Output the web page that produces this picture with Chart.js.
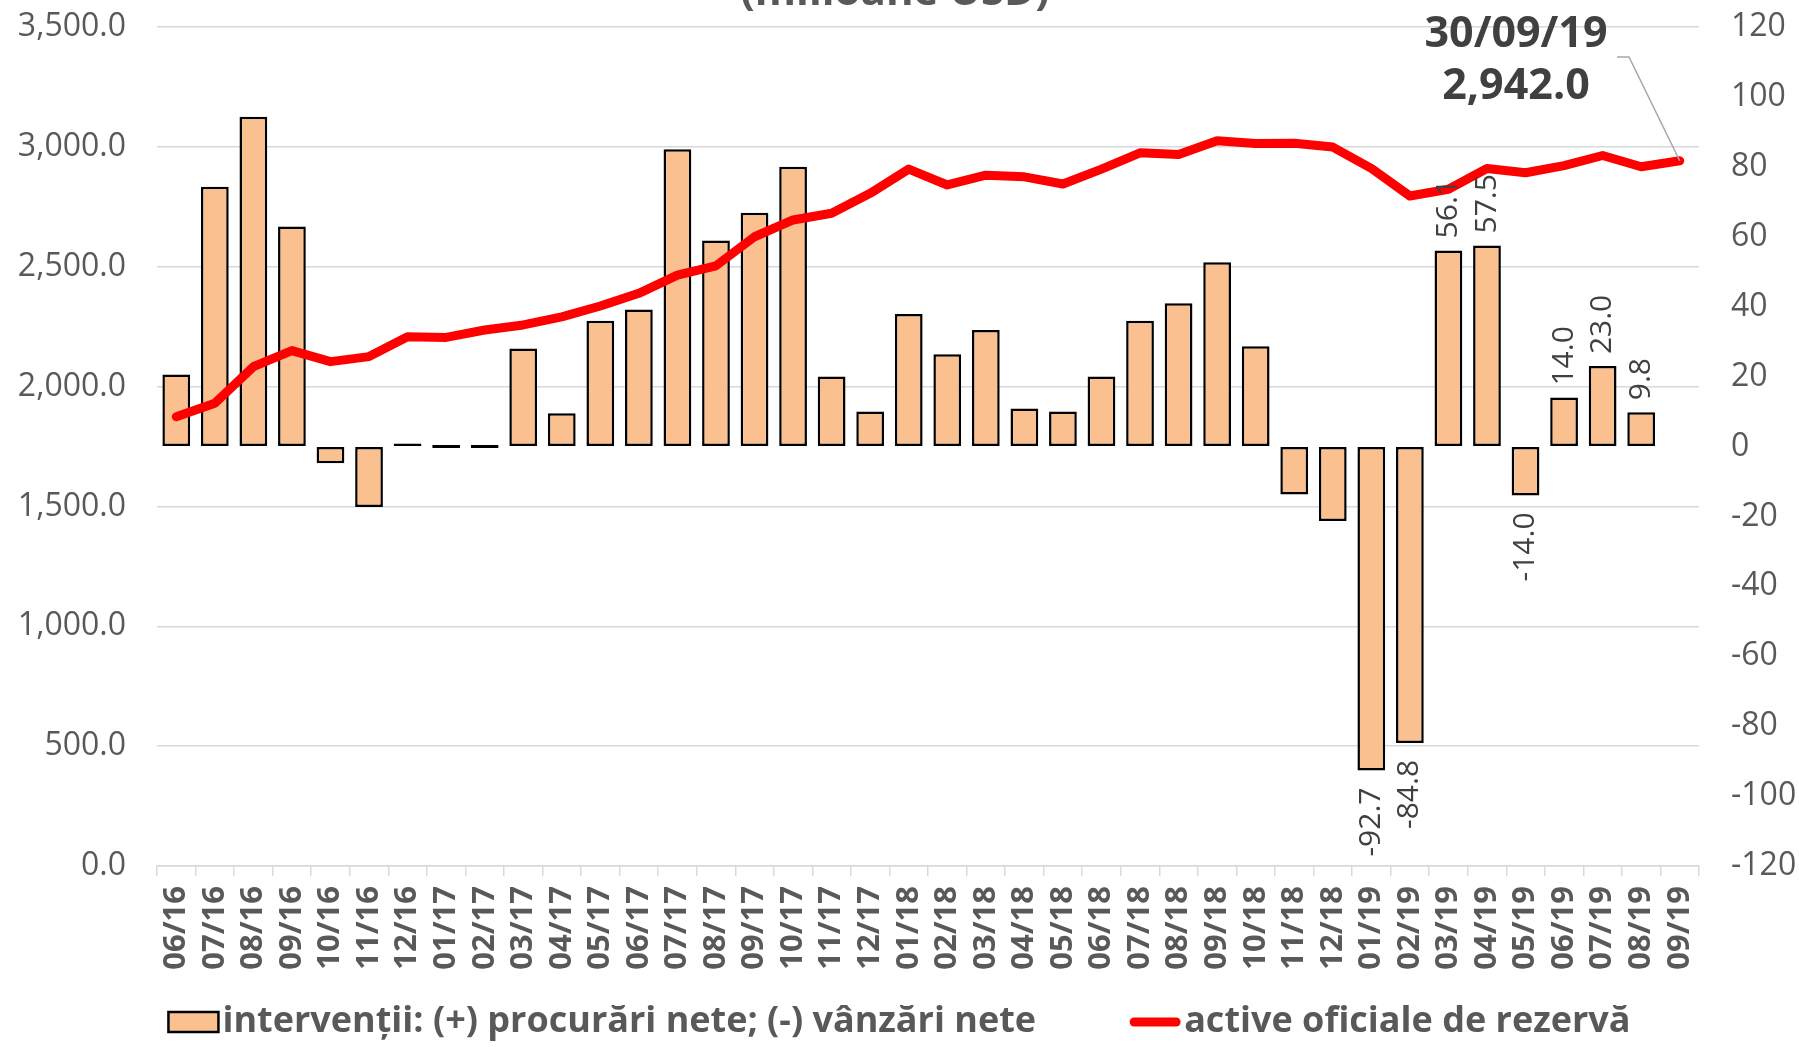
<!DOCTYPE html>
<html lang="ro">
<head>
<meta charset="utf-8">
<title>Intervenții și active oficiale de rezervă</title>
<script src="https://cdn.jsdelivr.net/npm/chart.js@4.4.1/dist/chart.umd.min.js"></script>
<style>
  html, body { margin: 0; padding: 0; background: #ffffff; }
  #wrap { width: 1799px; height: 1047px; position: relative; }
</style>
</head>
<body>
<div id="wrap"><canvas id="reserveChart"></canvas></div>
<script>
"use strict";

// Months (mm/yy)
const months = [
  "06/16", "07/16", "08/16", "09/16", "10/16", "11/16", "12/16",
  "01/17", "02/17", "03/17", "04/17", "05/17", "06/17", "07/17", "08/17", "09/17", "10/17", "11/17", "12/17",
  "01/18", "02/18", "03/18", "04/18", "05/18", "06/18", "07/18", "08/18", "09/18", "10/18", "11/18", "12/18",
  "01/19", "02/19", "03/19", "04/19", "05/19", "06/19", "07/19", "08/19", "09/19",
];

// Interventions, mil. USD (right axis)
const interventions = [
  20.6, 74.3, 94.3, 62.9, -4.8, -17.3, 0.5,
  0, 0, 28.0, 9.5, 36.0, 39.2, 85.0, 58.9, 66.9, 80.0, 20.0, 10.0,
  37.9, 26.4, 33.3, 10.9, 10.0, 20.0, 36.0, 41.0, 52.7, 28.7, -13.7, -21.3,
  -92.7, -84.8, 56.1, 57.5, -14.0, 14.0, 23.0, 9.8, null,
];

// Official reserve assets, mil. USD (left axis)
const reserveAssets = [
  1874, 1930, 2083, 2150, 2104, 2125, 2208,
  2205, 2236, 2257, 2291, 2336, 2389, 2465, 2504, 2625, 2695, 2723, 2806,
  2907, 2841, 2882, 2875, 2845, 2907, 2975, 2968, 3025, 3014, 3015, 2999,
  2910, 2795, 2823, 2910, 2892, 2922, 2964, 2917, 2942,
];

// Bars that carry a value label
const labelledMonths = ["01/19", "02/19", "03/19", "04/19", "05/19", "06/19", "07/19", "08/19"];

const titleText = "(milioane USD)";
const calloutDate = "30/09/19";

const FONT = "'Open Sans', 'Noto Sans', sans-serif";
const GREY = "#595959";
const DARK = "#404040";
const BAR_FILL = "#FAC090";
const LINE_RED = "#FF0000";

const fmt1 = (v) =>
  Number(v).toLocaleString("en-US", { minimumFractionDigits: 1, maximumFractionDigits: 1 });

// Title (cut off at the top), bar value labels and last-point callout
const extrasPlugin = {
  id: "extras",
  afterDatasetsDraw(chart) {
    const ctx = chart.ctx;
    ctx.save();

    // title, mostly outside the picture
    ctx.fillStyle = GREY;
    ctx.font = `bold 42px ${FONT}`;
    ctx.textAlign = "center";
    ctx.textBaseline = "alphabetic";
    ctx.fillText(titleText, 895, 5);

    // bar value labels, rotated
    const barMeta = chart.getDatasetMeta(0);
    ctx.font = `30px ${FONT}`;
    ctx.fillStyle = DARK;
    ctx.textBaseline = "middle";
    months.forEach((m, i) => {
      if (!labelledMonths.includes(m)) return;
      const v = interventions[i];
      const bar = barMeta.data[i];
      if (v === null || !bar) return;
      ctx.save();
      if (v >= 0) {
        ctx.translate(bar.x, bar.y - 12);
        ctx.rotate(-Math.PI / 2);
        ctx.textAlign = "left";
      } else {
        ctx.translate(bar.x, bar.y + 17);
        ctx.rotate(-Math.PI / 2);
        ctx.textAlign = "right";
      }
      ctx.fillText(fmt1(v), 0, 0);
      ctx.restore();
    });

    // callout for the last reserve value
    const lineMeta = chart.getDatasetMeta(1);
    const last = lineMeta.data[lineMeta.data.length - 1];
    const lastVal = reserveAssets[reserveAssets.length - 1];
    ctx.strokeStyle = "#a6a6a6";
    ctx.lineWidth = 1.5;
    ctx.beginPath();
    ctx.moveTo(1617, 57);
    ctx.lineTo(1629, 57);
    ctx.lineTo(last.x, last.y);
    ctx.stroke();

    ctx.fillStyle = DARK;
    ctx.font = `bold 43px ${FONT}`;
    ctx.textAlign = "center";
    ctx.textBaseline = "middle";
    ctx.fillText(calloutDate, 1516, 35);
    ctx.fillText(fmt1(lastVal), 1516, 87);

    ctx.restore();
  },

  // Legend row under the axis, Excel style (swatch right next to its text)
  afterDraw(chart) {
    const ctx = chart.ctx;
    const ds = chart.data.datasets;
    const y = 1022;
    const swatchW = 50;
    const gapText = 4;
    const gapItems = 94;

    ctx.save();
    ctx.font = `bold 36px ${FONT}`;
    ctx.textBaseline = "middle";
    ctx.textAlign = "left";
    const w1 = ctx.measureText(ds[0].label).width;
    const w2 = ctx.measureText(ds[1].label).width;
    const total = swatchW + gapText + w1 + gapItems + swatchW + gapText + w2;
    let x = chart.width / 2 - total / 2;

    // bars swatch
    ctx.fillStyle = BAR_FILL;
    ctx.strokeStyle = "#000000";
    ctx.lineWidth = 2.5;
    ctx.fillRect(x, y - 10, swatchW, 20);
    ctx.strokeRect(x, y - 10, swatchW, 20);
    x += swatchW + gapText;
    ctx.fillStyle = GREY;
    ctx.fillText(ds[0].label, x, y);
    x += w1 + gapItems;

    // line swatch
    ctx.strokeStyle = LINE_RED;
    ctx.lineWidth = 9;
    ctx.lineCap = "round";
    ctx.beginPath();
    ctx.moveTo(x + 4, y);
    ctx.lineTo(x + swatchW - 4, y);
    ctx.stroke();
    x += swatchW + gapText;
    ctx.fillStyle = GREY;
    ctx.fillText(ds[1].label, x, y);

    ctx.restore();
  },
};

const ctx = document.getElementById("reserveChart").getContext("2d");

new Chart(ctx, {
  type: "bar",
  data: {
    labels: months,
    datasets: [
      {
        type: "bar",
        label: "intervenții: (+) procurări nete; (-) vânzări nete",
        data: interventions,
        yAxisID: "y1",
        backgroundColor: BAR_FILL,
        borderColor: "#000000",
        borderWidth: 2.5,
        borderSkipped: false,
        barPercentage: 0.72,
        categoryPercentage: 1.0,
        minBarLength: 3,
        order: 2,
      },
      {
        type: "line",
        label: "active oficiale de rezervă",
        data: reserveAssets,
        yAxisID: "y",
        borderColor: LINE_RED,
        backgroundColor: LINE_RED,
        borderWidth: 9,
        borderCapStyle: "round",
        borderJoinStyle: "round",
        pointRadius: 0,
        tension: 0,
        fill: false,
        order: 1,
      },
    ],
  },
  options: {
    responsive: true,
    maintainAspectRatio: false,
    animation: false,
    layout: {
      padding: { top: 27, left: 0, right: 0, bottom: 0 },
    },
    plugins: {
      title: { display: false },
      tooltip: { enabled: false },
      legend: { display: false },
    },
    scales: {
      x: {
        offset: true,
        grid: {
          offset: true,
          drawOnChartArea: false,
          drawTicks: true,
          tickLength: 10,
          color: "#d9d9d9",
          lineWidth: 1.5,
        },
        border: { color: "#d9d9d9", width: 1.5 },
        ticks: {
          autoSkip: false,
          minRotation: 90,
          maxRotation: 90,
          padding: 10,
          color: GREY,
          font: { family: FONT, size: 31, weight: "bold" },
        },
        afterFit: function (scale) {
          scale.height = 181;
        },
      },
      y: {
        position: "left",
        min: 0,
        max: 3500,
        grid: { color: "#d9d9d9", lineWidth: 1.5, drawTicks: false },
        border: { display: false },
        ticks: {
          stepSize: 500,
          padding: 31,
          color: GREY,
          font: { family: FONT, size: 32 },
          callback: (v) => fmt1(v),
        },
        afterFit: function (scale) {
          scale.width = 157;
          scale.paddingTop = 0;
          scale.paddingBottom = 0;
        },
      },
      y1: {
        position: "right",
        min: -120,
        max: 120,
        grid: { drawOnChartArea: false, drawTicks: false },
        border: { display: false },
        ticks: {
          stepSize: 20,
          padding: 32,
          color: GREY,
          font: { family: FONT, size: 32 },
        },
        afterFit: function (scale) {
          scale.width = 100;
          scale.paddingTop = 0;
          scale.paddingBottom = 0;
        },
      },
    },
  },
  plugins: [extrasPlugin],
});
</script>
</body>
</html>
